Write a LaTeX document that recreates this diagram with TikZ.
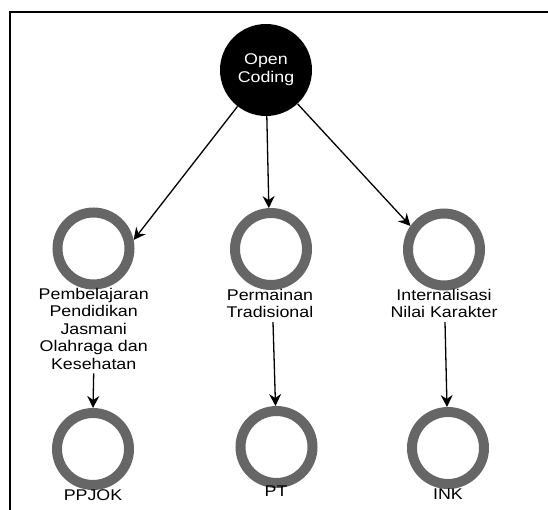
\documentclass[tikz,border=0pt]{standalone}
\usepackage{fontspec}
\setmainfont{Liberation Sans}[FakeStretch=1.15]
\usetikzlibrary{arrows.meta}
\begin{document}
\begin{tikzpicture}[x=1pt,y=-1pt,
  ringnode/.style={circle,draw={rgb,255:red,102;green,102;blue,102},line width=10pt,minimum size=72pt,inner sep=0pt},
  opennode/.style={circle,fill=black,text=white,minimum size=92pt,inner sep=0pt,align=center,font=\fontsize{15.5}{18}\selectfont},
  labelnode/.style={anchor=north,inner sep=0pt,align=center,font=\fontsize{15.5}{17.4}\selectfont},
  conn/.style={line width=1.3pt,-{Stealth[length=12pt,width=12pt,inset=4pt]}},
  frameline/.style={line width=1.5pt}
]
\useasboundingbox (0,0) rectangle (548,510);
\coordinate (ftl) at (10,12);
\coordinate (ftr) at (548,12);
\coordinate (fbl) at (10,510);
\draw[frameline] (ftr) -- (ftl) -- (fbl);

\node[opennode] (oc) at (266,70) {Open\\Coding};

\node[ringnode] (r1) at (93.5,248.5) {};
\node[ringnode] (r2) at (271,249) {};
\node[ringnode] (r3) at (444,249.5) {};

\node[labelnode] (l1) at (93.7,288) {Pembelajaran\\Pendidikan\\Jasmani\\Olahraga dan\\Kesehatan};
\node[labelnode] (l2) at (270,289) {Permainan\\Tradisional};
\node[labelnode] (l3) at (444,289) {Internalisasi\\Nilai Karakter};

\node[ringnode] (b1) at (93,449) {};
\node[ringnode] (b2) at (276.5,447) {};
\node[ringnode] (b3) at (448,448) {};

\node[labelnode] (t1) at (93,489) {PPJOK};
\node[labelnode] (t2) at (276,486) {PT};
\node[labelnode] (t3) at (448,488.5) {INK};

\draw[conn] (oc.232.9) -- (r1.12.9);
\draw[conn] (oc.271.3) -- (r2.93);
\draw[conn] (oc.313.3) -- (r3.145.8);

\draw[conn] ([yshift=-4pt]l1.south) -- (b1.north);
\draw[conn] ([xshift=3pt,yshift=-4pt]l2.south) -- ([xshift=-1pt]b2.north);
\draw[conn] ([xshift=1pt,yshift=-4pt]l3.south) -- ([xshift=-1pt]b3.north);
\end{tikzpicture}
\end{document}
